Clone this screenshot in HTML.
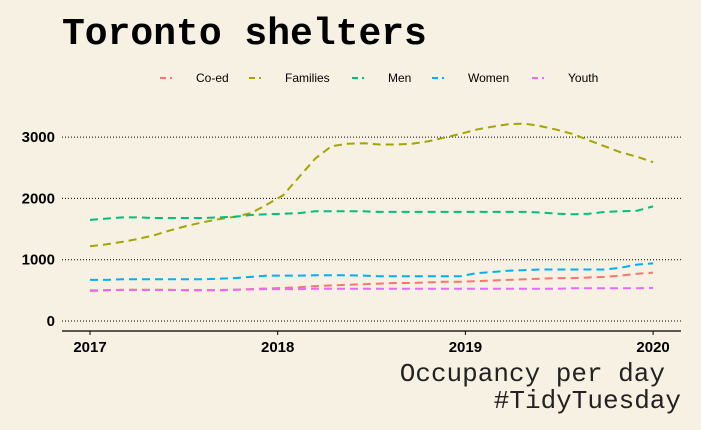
<!DOCTYPE html>
<html><head><meta charset="utf-8"><style>
body{margin:0;background:#f7f1e3;}
svg{display:block;font-family:"Liberation Sans",sans-serif;}
</style></head><body>
<svg id="c" width="701" height="430">
<rect width="701" height="430" fill="#f7f1e3"/>
<text x="62" y="44" font-family="Liberation Mono" font-weight="bold" font-size="38" fill="#000">Toronto shelters</text>
<g id="grid"></g><g id="series"></g><g id="axes"></g><g id="legend"></g>
<text x="665" y="381" text-anchor="end" font-family="Liberation Mono" font-size="26" fill="#222">Occupancy per day</text>
<text x="681" y="408" text-anchor="end" font-family="Liberation Mono" font-size="26" fill="#222">#TidyTuesday</text>
</svg>
<script>
const seriesNames=["Co-ed","Families","Men","Women","Youth"];
const colors=["#F8766D","#A3A500","#00BF7D","#00B0F6","#E76BF3"];
const coed=[490,500,510,510,510,510,500,500,500,510,520,530,540,550,570,580,590,600,610,620,620,630,640,640,650,660,670,680,690,700,700,710,720,740,770,790];
const families=[1220,1250,1290,1340,1400,1480,1550,1610,1660,1700,1760,1900,2050,2350,2650,2850,2890,2900,2880,2880,2890,2930,2990,3050,3120,3170,3210,3220,3180,3120,3050,2950,2850,2750,2680,2590];
const men=[1650,1670,1690,1690,1680,1680,1680,1680,1690,1700,1730,1740,1750,1760,1790,1790,1790,1790,1780,1780,1780,1780,1780,1780,1780,1780,1780,1780,1770,1750,1740,1750,1780,1790,1800,1870];
const women=[670,670,680,680,680,680,680,680,690,700,720,740,740,740,745,745,745,740,730,730,730,730,730,730,780,800,820,830,840,840,840,840,840,870,920,940];
const youth=[500,505,505,505,505,505,505,505,505,510,515,520,520,520,525,525,525,525,525,525,525,525,525,525,525,525,525,525,525,525,535,535,535,535,535,540];
const yTicks=[0,1000,2000,3000];
const xTicks=[2017,2018,2019,2020];
const NS="http://www.w3.org/2000/svg";
const X=t=>90+(t-2017)*187.7;
const Y=v=>321-v*0.0613;
function mk(tag,attrs,parent){const e=document.createElementNS(NS,tag);for(const k in attrs)e.setAttribute(k,attrs[k]);parent.appendChild(e);return e;}
const grid=document.getElementById('grid'),axes=document.getElementById('axes'),ser=document.getElementById('series'),leg=document.getElementById('legend');
yTicks.forEach(v=>{
 const l=mk('line',{x1:62,x2:681,y1:Y(v),y2:Y(v),stroke:'#000','stroke-width':1,'stroke-dasharray':'1,2'},grid);
 
 
 const t=mk('text',{x:55,y:Y(v)+5,'text-anchor':'end','font-size':15,'font-weight':'bold'},axes);
 t.textContent=v;
 
 
});
const ax=mk('line',{x1:62,x2:681,y1:331,y2:331,stroke:'#000','stroke-width':1.2},axes);


xTicks.forEach(v=>{
 const tk=mk('line',{x1:X(v),x2:X(v),y1:331,y2:335,stroke:'#000'},axes);
 
 
 const t=mk('text',{x:X(v),y:352,'text-anchor':'middle','font-size':15,'font-weight':'bold'},axes);
 t.textContent=v;
 
 
});
const data=[coed,families,men,women,youth];
data.forEach((arr,i)=>{
 const n=arr.length-1;
 const d=arr.map((v,j)=>(j?'L':'M')+X(2017+3*j/n).toFixed(1)+','+Y(v).toFixed(1)).join('');
 const p=mk('path',{d:d,fill:'none',stroke:colors[i],'stroke-width':2,'stroke-dasharray':'8,5'},ser);
 
 
});
const lx=[160,249,352,432,532];
seriesNames.forEach((n,i)=>{
 const g=mk('g',{},leg);
 
 
 mk('line',{x1:lx[i],x2:lx[i]+17,y1:78,y2:78,stroke:colors[i],'stroke-width':2,'stroke-dasharray':'6,4,2,10'},g);
 const t=mk('text',{x:lx[i]+36,y:82,'font-size':12},g);
 t.textContent=n;
});
</script>
</body></html>
